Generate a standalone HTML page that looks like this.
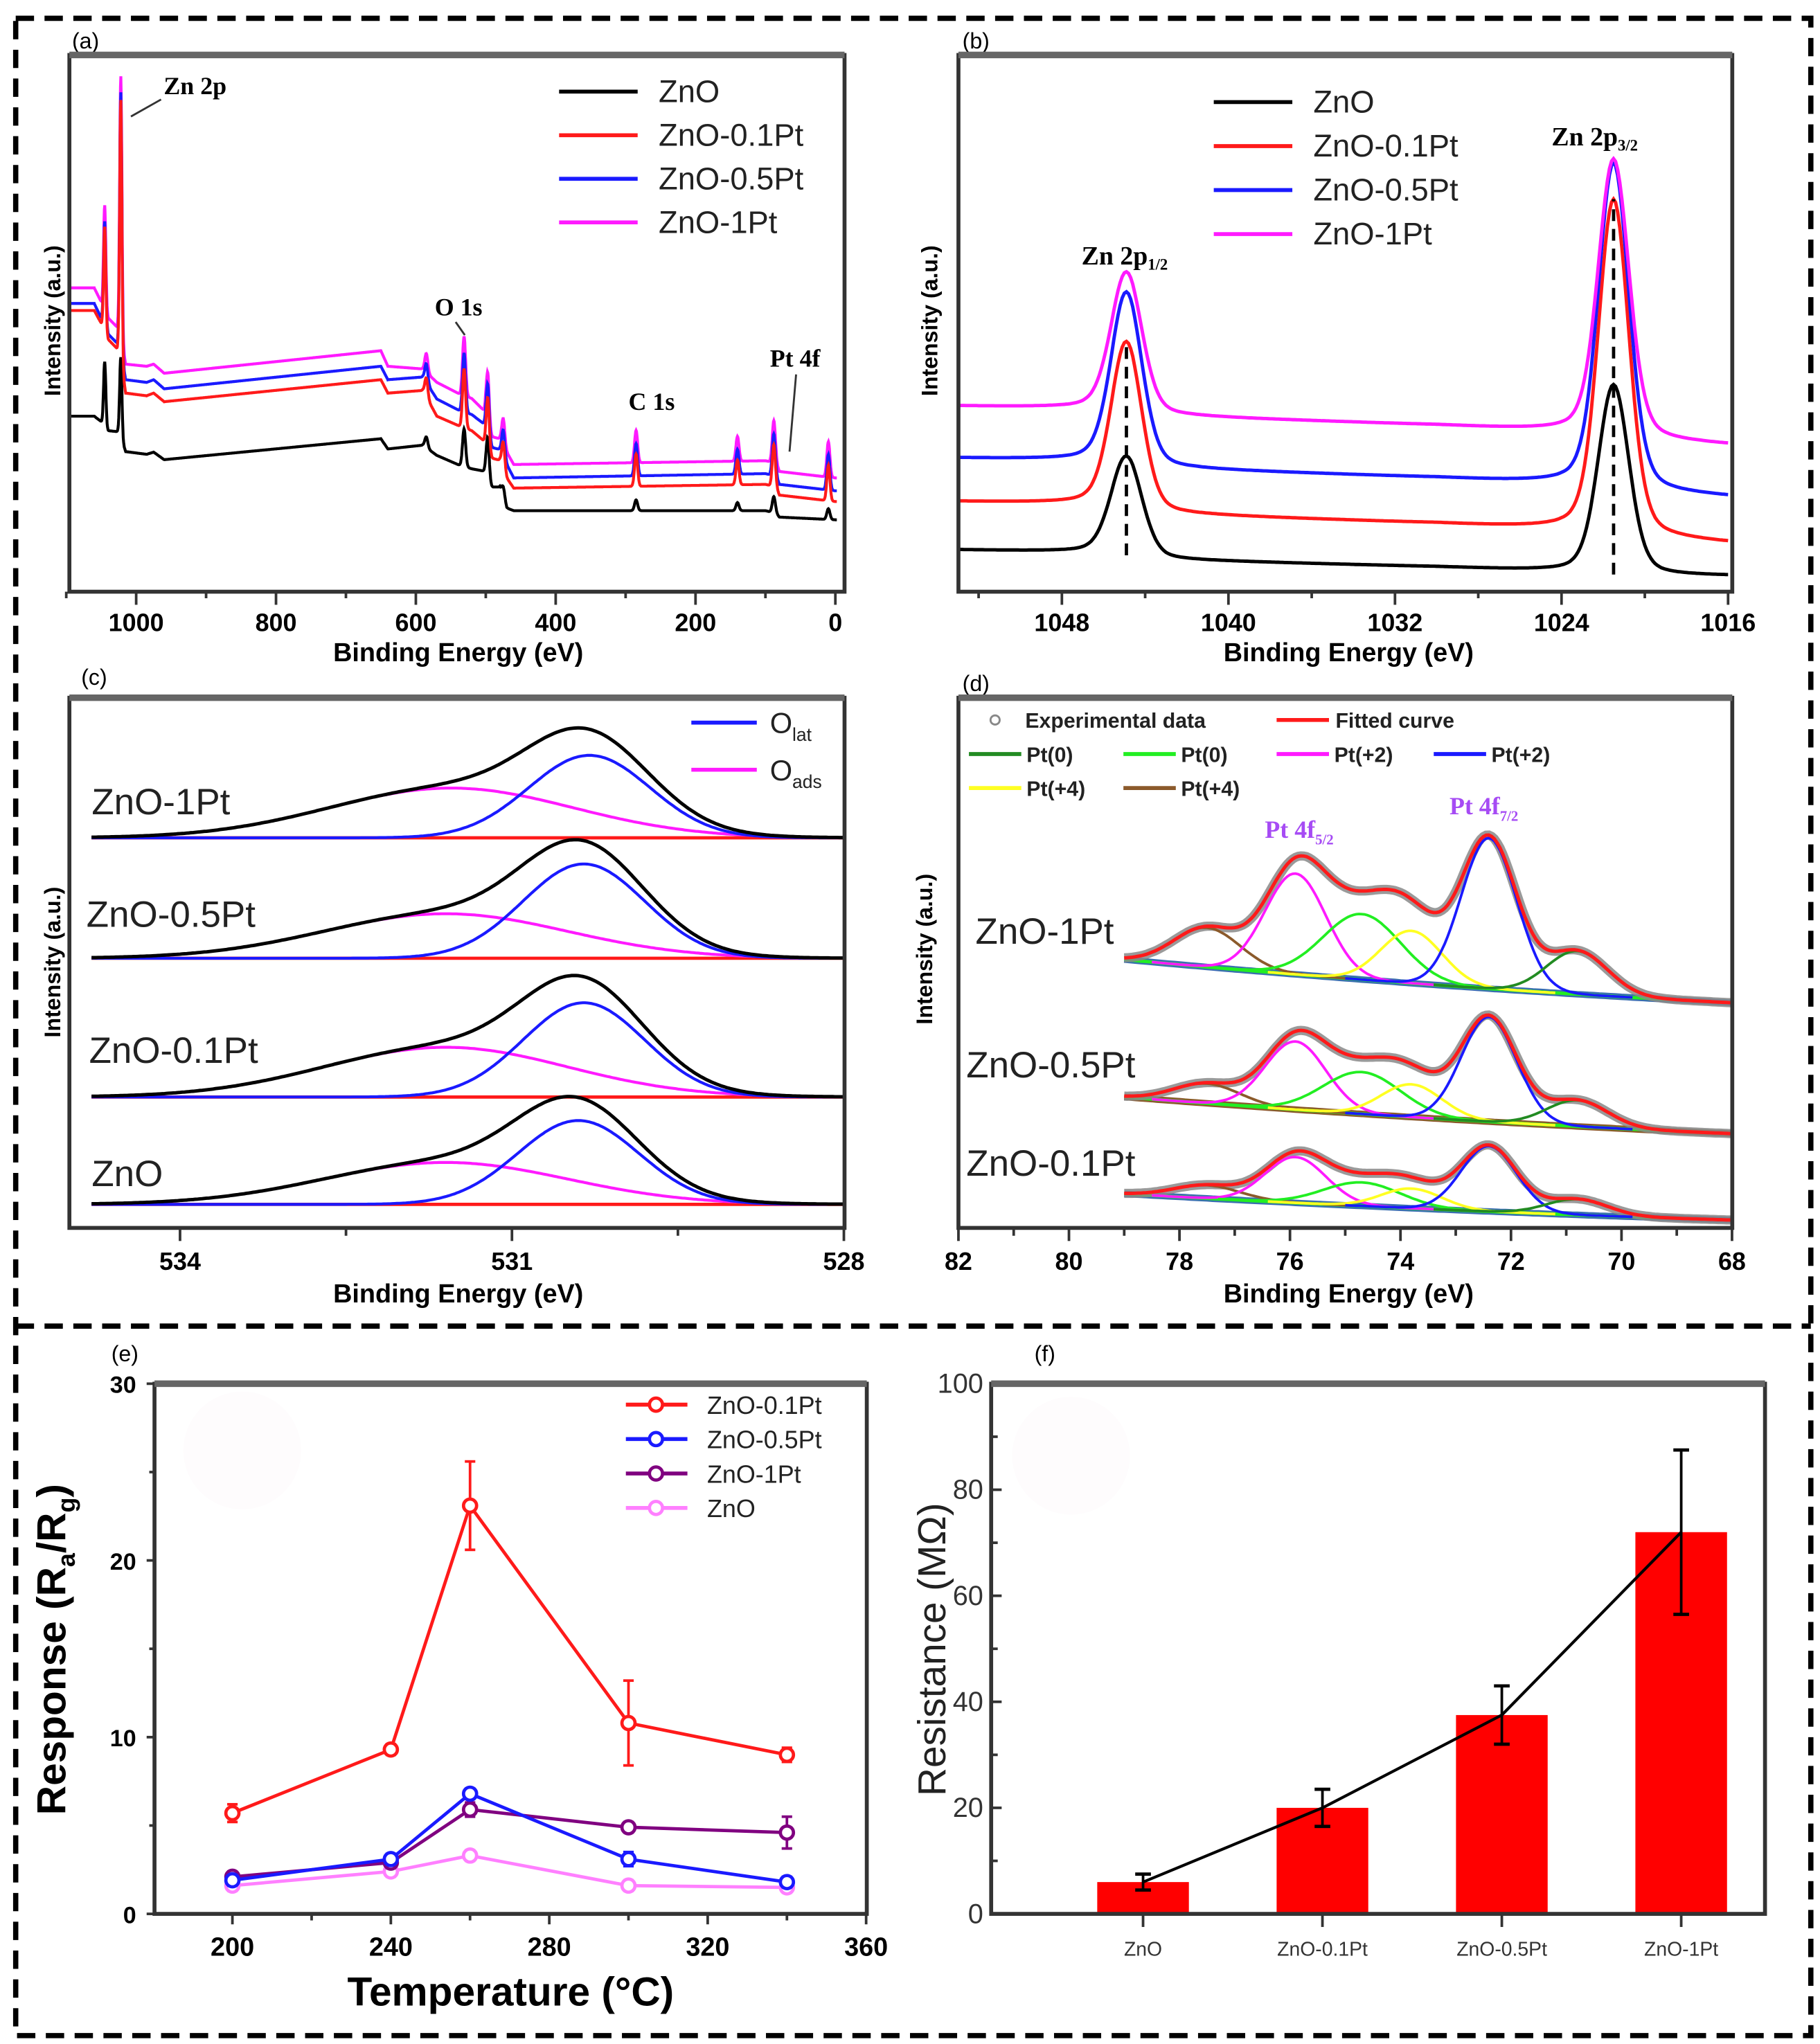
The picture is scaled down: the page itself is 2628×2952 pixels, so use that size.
<!DOCTYPE html>
<html><head><meta charset="utf-8"><style>
html,body{margin:0;padding:0;background:#fff;}
svg{display:block;}
text{font-family:"Liberation Sans",Arial,sans-serif;}
.serif{font-family:"Liberation Serif",serif;}
</style></head><body>
<svg id="fig" width="2628" height="2952" viewBox="0 0 1390 1561.4" preserveAspectRatio="none" xmlns="http://www.w3.org/2000/svg">
<rect x="0" y="0" width="1390" height="1562" fill="#fff"/>
<g fill="none" stroke="#000" stroke-width="4" stroke-dasharray="14,8">
<rect x="12" y="14" width="1371" height="1541"/>
<line x1="12" y1="1013" x2="1383" y2="1013"/>
</g>
</svg>
<script>
// ---------- DATA ----------
// Panel (a) survey
const aBaseE=[1100,1060,1050,1040,1025,1015,985,975,960,650,640,590,570,540,520,500,495,480,470,460,100,85,80,0];
const aBaseZnO=[32.7,32.7,31.7,30,29.8,26.1,25.6,26,24.6,28.5,26.6,27.3,25.4,23.7,22.9,22.4,19.5,19.5,15.6,15.1,15.1,14.6,13.9,13.4];
const aBase01=[52.4,52.4,50,47,45,37,36.5,37,35.4,39.5,37,37.5,32.7,31,30,27.8,25,24.5,21.2,19.3,20,19.5,18,16.8];
const aBase05=[53.7,53.7,51,48,46,39.5,39,39.5,37.8,42,39.5,40,35.9,33.9,33,31,27,26.5,23.7,21.2,22,21.5,20,18.8];
const aBase1=[56.6,56.6,54,51,49,42.4,42,42.4,40.7,44.9,42,41.5,39,37,36,33.4,29,28.5,26,23.7,24.4,24,22.4,21.2];
const aPeakE=[1045,1022,585,531,497,475,285,140,88,10];
const aPeakZnO=[12,15,2,7,8,2,2,1.5,3,2];
const aPeakPt=[19.5,49,3.5,11,10,5,6,4.6,7.8,6.6];
// Panel (b) Zn 2p
const bBaseE=[1053,1046,1043,1030,1024,1020,1016];
const bBaseZnO=[7.8,7.3,5.9,4.6,3.7,2.9,2.9];
const bBase01=[16.8,16.3,14.4,12.7,11.5,9.8,9.0];
const bBase05=[24.9,24.4,22.9,21.2,20,18.3,17.6];
const bBase1=[34.6,34.1,32.7,31,29.8,28,27.3];
const bPeakE=[1044.9,1021.5];
const bPeakZnO=[18.5,35.4];
const bPeak01=[31,62.7];
const bPeak05=[32,61];
const bPeak1=[26,52];
// Panel (c) O1s
const cSamples=['ZnO-1Pt','ZnO-0.5Pt','ZnO-0.1Pt','ZnO'];
const cBaseline=[298,206,100,18];
const cLatH=[63,72,72,64];
const cAdsH=[38,34,38,32];
const cLatE=[530.3,530.35,530.35,530.4];
const cAdsE=[531.55,531.6,531.6,531.6];
// Panel (d) Pt 4f
const dSamples=['ZnO-1Pt','ZnO-0.5Pt','ZnO-0.1Pt'];
const dCompE=[77.5,75.9,74.7,73.8,72.4,70.8];
const dCompSig=[0.6,0.55,0.7,0.55,0.5,0.55];
const dH1=[30,77,50,40,115,33];
const dH05=[15,52,32,25,80,20];
const dH01=[10,35,18,15,50,12];
const dBaseStart=[205,100,26];
const dBaseEnd=[172,72,6];
// Panel (e) response
const eTemps=[200,240,260,300,340];
const eZnO01=[5.7,9.3,23.1,10.8,9.0];
const eErr01=[0.5,0.3,2.5,2.4,0.4];
const eZnO05=[1.9,3.1,6.8,3.1,1.8];
const eErr05=[0.3,0.3,0.3,0.4,0.3];
const eZnO1=[2.1,2.9,5.9,4.9,4.6];
const eErr1=[0.3,0.3,0.4,0.3,0.9];
const eZnO=[1.6,2.4,3.3,1.6,1.5];
const eErrZnO=[0.3,0.3,0.3,0.3,0.3];
const eXTicks=[200,240,280,320,360];
const eYTicks=[0,10,20,30];
// Panel (f) resistance
const fCats=['ZnO','ZnO-0.1Pt','ZnO-0.5Pt','ZnO-1Pt'];
const fVals=[6,20,37.5,72];
const fErr=[1.5,3.5,5.5,15.5];
const fYTicks=[0,20,40,60,80,100];

// ---------- HELPERS ----------
const NS='http://www.w3.org/2000/svg';
const svg=document.getElementById('fig');
function mk(tag,attrs,name,parent){
  const e=document.createElementNS(NS,tag);
  for(const k in attrs) e.setAttribute(k,attrs[k]);
  
  
  (parent||svg).appendChild(e);
  return e;
}
function txt(x,y,s,opt,name,parent){
  const t=mk('text',Object.assign({x:x,y:y},opt||{}),name,parent);
  t.textContent=s; return t;
}
function interp(xs,ys,x){
  for(let i=0;i<xs.length-1;i++){
    const a=xs[i],b=xs[i+1];
    if((x<=a&&x>=b)||(x>=a&&x<=b)){const t=(x-a)/(b-a);return ys[i]+t*(ys[i+1]-ys[i]);}
  }
  return x>xs[0]===(xs[0]>xs[xs.length-1])?ys[0]:ys[ys.length-1];
}
function g(x,c,s){return Math.exp(-(x-c)*(x-c)/(2*s*s));}
function lor(x,c,w){return 1/(1+((x-c)/w)*((x-c)/w));}
function pathD(pts){return pts.map((p,i)=>(i?'L':'M')+p[0].toFixed(1)+' '+p[1].toFixed(1)).join('');}
function box(x0,y0,x1,y1,name){
  mk('rect',{x:x0,y:y0,width:x1-x0,height:y1-y0,fill:'none',stroke:'#333','stroke-width':3},name);
  mk('line',{x1:x0,y1:y0,x2:x1,y2:y0,stroke:'#666','stroke-width':5},name+'-top');
}
const BOLD={'font-weight':'bold'};

// ---------- PANEL A ----------
(function(){
  const G=mk('g',{},'panel-a');
  const X=E=>50.6+(1100-E)*0.534, Y=I=>452-I*4.1;
  const clip=mk('clipPath',{id:'ca'},'clip-a',G); mk('rect',{x:53,y:42,width:592,height:410},'clip-rect',clip);
  const sets=[[aBaseZnO,aPeakZnO,'#000','ZnO'],[aBase01,aPeakPt,'#ff1a1a','ZnO-0.1Pt'],[aBase05,aPeakPt,'#1a1aff','ZnO-0.5Pt'],[aBase1,aPeakPt,'#ff1aff','ZnO-1Pt']];
  const order=[0,3,2,1];
  order.forEach(k=>{
    const [base,pk,col,nm]=sets[k]; const pts=[];
    for(let E=1100;E>=-2;E-=0.5){
      let I=interp(aBaseE,base,E);
      aPeakE.forEach((pe,j)=>{I+=pk[j]*g(E,pe,pe>1000?1.6:2.2);});
      pts.push([X(E),Y(I)]);
    }
    mk('path',{d:pathD(pts),fill:'none',stroke:col,'stroke-width':2.2,'clip-path':'url(#ca)'},'survey-line-'+nm,G);
  });
  box(53,42,645,452,'axes-box-a');
  [1000,800,600,400,200,0].forEach(v=>{txt(X(v),482,String(v),Object.assign({'font-size':19,'text-anchor':'middle'},BOLD),'x-tick-label-a',G);});
  for(let v=1100;v>=0;v-=100) mk('line',{x1:X(v),y1:452,x2:X(v),y2:v%200===0?462:457,stroke:'#333','stroke-width':2},'x-tick-a',G);
  txt(350,505,'Binding Energy (eV)',Object.assign({'font-size':20,'text-anchor':'middle'},BOLD),'x-axis-title-a',G);
  txt(46,245,'Intensity (a.u.)',Object.assign({'font-size':17,'text-anchor':'middle',transform:'rotate(-90 46 245)'},BOLD),'y-axis-title-a',G);
  txt(55,37,'(a)',{'font-size':17},'panel-label-a',G);
  const lg=[['#000','ZnO'],['#ff1a1a','ZnO-0.1Pt'],['#1a1aff','ZnO-0.5Pt'],['#ff1aff','ZnO-1Pt']];
  lg.forEach((l,i)=>{const y=70+i*33.3;mk('line',{x1:427,y1:y,x2:487,y2:y,stroke:l[0],'stroke-width':3},'legend-line-a',G);txt(503,y+8,l[1],{'font-size':24,fill:'#222'},'legend-entry-a',G);});
  txt(125,72,'Zn 2p',Object.assign({'font-size':19,class:'serif'},BOLD),'annotation-zn2p',G);
  mk('line',{x1:123,y1:76,x2:100,y2:89,stroke:'#333','stroke-width':1.5},'arrow-zn2p',G);
  txt(332,241,'O 1s',Object.assign({'font-size':19,class:'serif'},BOLD),'annotation-o1s',G);
  mk('line',{x1:348,y1:246,x2:355,y2:256,stroke:'#333','stroke-width':1.5},'arrow-o1s',G);
  txt(480,313,'C 1s',Object.assign({'font-size':19,class:'serif'},BOLD),'annotation-c1s',G);
  txt(588,280,'Pt 4f',Object.assign({'font-size':19,class:'serif'},BOLD),'annotation-pt4f',G);
  mk('line',{x1:608,y1:286,x2:603,y2:345,stroke:'#333','stroke-width':1.5},'arrow-pt4f',G);
})();

// ---------- PANEL B ----------
(function(){
  const G=mk('g',{},'panel-b');
  const X=E=>811+(1048-E)*15.9, Y=I=>452-I*4.1;
  const sets=[[bBaseZnO,bPeakZnO,'#000','ZnO'],[bBase01,bPeak01,'#ff1a1a','ZnO-0.1Pt'],[bBase05,bPeak05,'#1a1aff','ZnO-0.5Pt'],[bBase1,bPeak1,'#ff1aff','ZnO-1Pt']];
  sets.forEach(([base,pk,col,nm])=>{
    const pts=[];
    for(let E=1053;E>=1016;E-=0.1){
      let I=interp(bBaseE,base,E);
      bPeakE.forEach((pe,j)=>{I+=pk[j]*(0.75*g(E,pe,0.72)+0.25*lor(E,pe,1.0));});
      pts.push([X(E),Y(I)]);
    }
    mk('path',{d:pathD(pts),fill:'none',stroke:col,'stroke-width':2.6},'zn2p-line-'+nm,G);
  });
  bPeakE.forEach((pe,j)=>{
    const y1=Y(interp(bBaseE,bBaseZnO,pe)), y2=Y(interp(bBaseE,bBase01,pe)+bPeak01[j]);
    mk('line',{x1:X(pe),y1:y1,x2:X(pe),y2:y2,stroke:'#000','stroke-width':2.5,'stroke-dasharray':'9,6'},'peak-guide-b',G);
  });
  box(732,42,1323,452,'axes-box-b');
  [1048,1040,1032,1024,1016].forEach(v=>{txt(X(v),482,String(v),Object.assign({'font-size':19,'text-anchor':'middle'},BOLD),'x-tick-label-b',G);});
  for(let v=1052;v>=1016;v-=4) mk('line',{x1:X(v),y1:452,x2:X(v),y2:(v%8===0)?462:457,stroke:'#333','stroke-width':2},'x-tick-b',G);
  txt(1030,505,'Binding Energy (eV)',Object.assign({'font-size':20,'text-anchor':'middle'},BOLD),'x-axis-title-b',G);
  txt(716,245,'Intensity (a.u.)',Object.assign({'font-size':17,'text-anchor':'middle',transform:'rotate(-90 716 245)'},BOLD),'y-axis-title-b',G);
  txt(735,37,'(b)',{'font-size':17},'panel-label-b',G);
  const lg=[['#000','ZnO'],['#ff1a1a','ZnO-0.1Pt'],['#1a1aff','ZnO-0.5Pt'],['#ff1aff','ZnO-1Pt']];
  lg.forEach((l,i)=>{const y=78+i*33.6;mk('line',{x1:927,y1:y,x2:987,y2:y,stroke:l[0],'stroke-width':3},'legend-line-b',G);txt(1003,y+8,l[1],{'font-size':24,fill:'#222'},'legend-entry-b',G);});
  const t1=txt(826,202,'Zn 2p',Object.assign({'font-size':20,class:'serif'},BOLD),'annotation-zn2p12',G);
  const s1=mk('tspan',{'font-size':12,dy:4},'subscript',t1); s1.textContent='1/2';
  const t2=txt(1185,111,'Zn 2p',Object.assign({'font-size':20,class:'serif'},BOLD),'annotation-zn2p32',G);
  const s2=mk('tspan',{'font-size':12,dy:4},'subscript',t2); s2.textContent='3/2';
})();

// ---------- PANEL C ----------
(function(){
  const G=mk('g',{},'panel-c');
  const X=E=>53+(535-E)*84.5, Y=I=>938-I;
  cSamples.forEach((nm,k)=>{
    const b=cBaseline[k];
    const blue=[],mag=[],env=[];
    for(let E=534.8;E>=528;E-=0.02){
      const lat=cLatH[k]*g(E,cLatE[k],0.55), ads=cAdsH[k]*g(E,cAdsE[k],1.1);
      blue.push([X(E),Y(b+lat)]); mag.push([X(E),Y(b+ads)]); env.push([X(E),Y(b+lat+ads)]);
    }
    mk('line',{x1:X(534.8),y1:Y(b),x2:645,y2:Y(b),stroke:'#ff1a1a','stroke-width':2.5},'baseline-c-'+nm,G);
    mk('path',{d:pathD(mag),fill:'none',stroke:'#ff1aff','stroke-width':2.2},'o-ads-'+nm,G);
    mk('path',{d:pathD(blue),fill:'none',stroke:'#1a1aff','stroke-width':2.2},'o-lat-'+nm,G);
    mk('path',{d:pathD(env),fill:'none',stroke:'#000','stroke-width':2.6},'o1s-envelope-'+nm,G);
  });
  box(53,533,645,938,'axes-box-c');
  [534,531,528].forEach(v=>{txt(X(v),970,String(v),Object.assign({'font-size':19,'text-anchor':'middle'},BOLD),'x-tick-label-c',G);mk('line',{x1:X(v),y1:938,x2:X(v),y2:948,stroke:'#333','stroke-width':2},'x-tick-c',G);});
  [532.5,529.5].forEach(v=>mk('line',{x1:X(v),y1:938,x2:X(v),y2:944,stroke:'#333','stroke-width':2},'x-minor-tick-c',G));
  txt(350,995,'Binding Energy (eV)',Object.assign({'font-size':20,'text-anchor':'middle'},BOLD),'x-axis-title-c',G);
  txt(46,735,'Intensity (a.u.)',Object.assign({'font-size':17,'text-anchor':'middle',transform:'rotate(-90 46 735)'},BOLD),'y-axis-title-c',G);
  txt(62,523,'(c)',{'font-size':17},'panel-label-c',G);
  mk('line',{x1:528,y1:552,x2:578,y2:552,stroke:'#1a1aff','stroke-width':3},'legend-line-olat',G);
  const l1=txt(588,560,'O',{'font-size':22,fill:'#222'},'legend-entry-olat',G); const a1=mk('tspan',{'font-size':14,dy:6},'subscript',l1); a1.textContent='lat';
  mk('line',{x1:528,y1:588,x2:578,y2:588,stroke:'#ff1aff','stroke-width':3},'legend-line-oads',G);
  const l2=txt(588,596,'O',{'font-size':22,fill:'#222'},'legend-entry-oads',G); const a2=mk('tspan',{'font-size':14,dy:6},'subscript',l2); a2.textContent='ads';
  const lp=[[70,622],[66,708],[68,812],[70,906]];
  cSamples.forEach((nm,k)=>txt(lp[k][0],lp[k][1],nm,{'font-size':28,fill:'#222'},'sample-label-c',G));
})();

// ---------- PANEL D ----------
(function(){
  const G=mk('g',{},'panel-d');
  const X=E=>732+(82-E)*42.2, Y=I=>938-I;
  const cols=['#8b5a2b','#ff1aff','#22ee22','#ffff22','#1a1aff','#228b22'];
  const hs=[dH1,dH05,dH01];
  dSamples.forEach((nm,k)=>{
    const base=E=>{const t=(79-E)/11;return dBaseStart[k]+(dBaseEnd[k]-dBaseStart[k])*(1-(1-t)*(1-t)*0.3-0.7*(1-t));};
    const env=[];
    for(let E=79;E>=68;E-=0.05){let I=base(E);dCompE.forEach((c,j)=>{I+=hs[k][j]*g(E,c,dCompSig[j]);});env.push([X(E),Y(I)]);}
    const bl=[];for(let E=79;E>=68;E-=0.1)bl.push([X(E),Y(base(E))]);
    mk('path',{d:pathD(bl),fill:'none',stroke:k===1?'#8b5a2b':'#3a6fb0','stroke-width':5},'background-d-'+nm,G);
    mk('path',{d:pathD(bl),fill:'none',stroke:'#22ee22','stroke-width':2.5},'background-green-d-'+nm,G);
    mk('path',{d:pathD(env),fill:'none',stroke:'#888','stroke-width':7,opacity:0.85},'experimental-data-'+nm,G);
    dCompE.forEach((c,j)=>{
      const p=[];for(let E=Math.min(79,c+2.6);E>=Math.max(68,c-2.6);E-=0.05)p.push([X(E),Y(base(E)+hs[k][j]*g(E,c,dCompSig[j]))]);
      mk('path',{d:pathD(p),fill:'none',stroke:cols[j],'stroke-width':2},'component-'+j+'-'+nm,G);
    });
    mk('path',{d:pathD(env),fill:'none',stroke:'#ff1a1a','stroke-width':2.6},'fitted-curve-'+nm,G);
  });
  box(732,533,1323,938,'axes-box-d');
  for(let v=82;v>=68;v-=2){txt(X(v),970,String(v),Object.assign({'font-size':19,'text-anchor':'middle'},BOLD),'x-tick-label-d',G);mk('line',{x1:X(v),y1:938,x2:X(v),y2:948,stroke:'#333','stroke-width':2},'x-tick-d',G);}
  for(let v=81;v>=69;v-=2) mk('line',{x1:X(v),y1:938,x2:X(v),y2:944,stroke:'#333','stroke-width':2},'x-minor-tick-d',G);
  txt(1030,995,'Binding Energy (eV)',Object.assign({'font-size':20,'text-anchor':'middle'},BOLD),'x-axis-title-d',G);
  txt(712,725,'Intensity (a.u.)',Object.assign({'font-size':17,'text-anchor':'middle',transform:'rotate(-90 712 725)'},BOLD),'y-axis-title-d',G);
  txt(735,528,'(d)',{'font-size':17},'panel-label-d',G);
  mk('circle',{cx:760,cy:550,r:3.5,fill:'none',stroke:'#888','stroke-width':1.5},'legend-marker-exp',G);
  txt(783,556,'Experimental data',Object.assign({'font-size':16,fill:'#222'},BOLD),'legend-entry-exp',G);
  mk('line',{x1:975,y1:550,x2:1015,y2:550,stroke:'#ff1a1a','stroke-width':3},'legend-line-fit',G);
  txt(1020,556,'Fitted curve',Object.assign({'font-size':16,fill:'#222'},BOLD),'legend-entry-fit',G);
  const lr=[[740,576,'#228b22','Pt(0)'],[858,576,'#22ee22','Pt(0)'],[975,576,'#ff1aff','Pt(+2)'],[1095,576,'#1a1aff','Pt(+2)'],[740,602,'#ffff22','Pt(+4)'],[858,602,'#8b5a2b','Pt(+4)']];
  lr.forEach(l=>{mk('line',{x1:l[0],y1:l[1],x2:l[0]+40,y2:l[1],stroke:l[2],'stroke-width':3},'legend-line-d',G);txt(l[0]+44,l[1]+6,l[3],Object.assign({'font-size':16,fill:'#222'},BOLD),'legend-entry-d',G);});
  const p1=txt(966,640,'Pt 4f',Object.assign({'font-size':19,fill:'#a64bf4',class:'serif'},BOLD),'annotation-pt4f52',G); const q1=mk('tspan',{'font-size':11,dy:5},'subscript',p1); q1.textContent='5/2';
  const p2=txt(1107,622,'Pt 4f',Object.assign({'font-size':19,fill:'#a64bf4',class:'serif'},BOLD),'annotation-pt4f72',G); const q2=mk('tspan',{'font-size':11,dy:5},'subscript',p2); q2.textContent='7/2';
  txt(745,721,'ZnO-1Pt',{'font-size':28,fill:'#222'},'sample-label-d',G);
  txt(738,823,'ZnO-0.5Pt',{'font-size':28,fill:'#222'},'sample-label-d',G);
  txt(738,898,'ZnO-0.1Pt',{'font-size':28,fill:'#222'},'sample-label-d',G);
})();

// ---------- PANEL E ----------
(function(){
  const G=mk('g',{},'panel-e');
  const X=T=>117+(T-180)*3.025, Y=v=>1462-v*13.5;
  mk('circle',{cx:185,cy:1108,r:45,fill:'#fefcfd'},'watermark-e',G);
  box(118,1057,662,1462,'axes-box-e');
  eYTicks.forEach(v=>{txt(104,Y(v)+7,String(v),Object.assign({'font-size':18,'text-anchor':'end'},BOLD),'y-tick-label-e',G);mk('line',{x1:112,y1:Y(v),x2:118,y2:Y(v),stroke:'#333','stroke-width':2},'y-tick-e',G);});
  for(let v=5;v<30;v+=10) mk('line',{x1:114,y1:Y(v),x2:118,y2:Y(v),stroke:'#333','stroke-width':2},'y-minor-tick-e',G);
  eXTicks.forEach(v=>{txt(X(v),1494,String(v),Object.assign({'font-size':20,'text-anchor':'middle'},BOLD),'x-tick-label-e',G);mk('line',{x1:X(v),y1:1462,x2:X(v),y2:1470,stroke:'#333','stroke-width':2},'x-tick-e',G);});
  for(let v=220;v<360;v+=40) mk('line',{x1:X(v),y1:1462,x2:X(v),y2:1467,stroke:'#333','stroke-width':2},'x-minor-tick-e',G);
  const series=[[eZnO,eErrZnO,'#ff80ff','ZnO'],[eZnO1,eErr1,'#800080','ZnO-1Pt'],[eZnO05,eErr05,'#1a1aff','ZnO-0.5Pt'],[eZnO01,eErr01,'#ff1a1a','ZnO-0.1Pt']];
  series.forEach(([vals,err,col,nm])=>{
    mk('path',{d:pathD(eTemps.map((t,i)=>[X(t),Y(vals[i])])),fill:'none',stroke:col,'stroke-width':2.5},'response-line-'+nm,G);
    eTemps.forEach((t,i)=>{
      mk('line',{x1:X(t),y1:Y(vals[i]-err[i]),x2:X(t),y2:Y(vals[i]+err[i]),stroke:col,'stroke-width':2},'error-bar-'+nm,G);
      mk('line',{x1:X(t)-4,y1:Y(vals[i]+err[i]),x2:X(t)+4,y2:Y(vals[i]+err[i]),stroke:col,'stroke-width':2},'error-cap-'+nm,G);
      mk('line',{x1:X(t)-4,y1:Y(vals[i]-err[i]),x2:X(t)+4,y2:Y(vals[i]-err[i]),stroke:col,'stroke-width':2},'error-cap-'+nm,G);
      mk('circle',{cx:X(t),cy:Y(vals[i]),r:5,fill:'#fff',stroke:col,'stroke-width':2.5},'point-'+nm,G);
    });
  });
  const lg=[['#ff1a1a','ZnO-0.1Pt'],['#1a1aff','ZnO-0.5Pt'],['#800080','ZnO-1Pt'],['#ff80ff','ZnO']];
  lg.forEach((l,i)=>{const y=1073+i*26.3;mk('line',{x1:478,y1:y,x2:525,y2:y,stroke:l[0],'stroke-width':3},'legend-line-e',G);mk('circle',{cx:501,cy:y,r:5,fill:'#fff',stroke:l[0],'stroke-width':2.5},'legend-marker-e',G);txt(540,y+7,l[1],{'font-size':19,fill:'#222'},'legend-entry-e',G);});
  txt(390,1532,'Temperature (°C)',Object.assign({'font-size':31,'text-anchor':'middle'},BOLD),'x-axis-title-e',G);
  const yt=txt(50,1260,'Response (R',Object.assign({'font-size':31,'text-anchor':'middle',transform:'rotate(-90 50 1260)'},BOLD),'y-axis-title-e',G);
  const s1=mk('tspan',{'font-size':19,dy:7},'subscript',yt); s1.textContent='a';
  const s2=mk('tspan',{dy:-7},'title-part',yt); s2.textContent='/R';
  const s3=mk('tspan',{'font-size':19,dy:7},'subscript',yt); s3.textContent='g';
  const s4=mk('tspan',{dy:-7},'title-part',yt); s4.textContent=')';
  txt(85,1040,'(e)',{'font-size':17},'panel-label-e',G);
})();

// ---------- PANEL F ----------
(function(){
  const G=mk('g',{},'panel-f');
  const Y=v=>1462-v*4.05, X=i=>873+i*137;
  mk('circle',{cx:818,cy:1112,r:45,fill:'#fefcfd'},'watermark-f',G);
  fVals.forEach((v,i)=>{mk('rect',{x:X(i)-35,y:Y(v),width:70,height:1462-Y(v),fill:'#ff0000'},'bar-'+fCats[i],G);});
  mk('path',{d:pathD(fVals.map((v,i)=>[X(i),Y(v)])),fill:'none',stroke:'#000','stroke-width':2.2},'trend-line-f',G);
  fVals.forEach((v,i)=>{
    mk('line',{x1:X(i),y1:Y(v-fErr[i]),x2:X(i),y2:Y(v+fErr[i]),stroke:'#000','stroke-width':2},'error-bar-f',G);
    mk('line',{x1:X(i)-6,y1:Y(v-fErr[i]),x2:X(i)+6,y2:Y(v-fErr[i]),stroke:'#000','stroke-width':2.5},'error-cap-f',G);
    mk('line',{x1:X(i)-6,y1:Y(v+fErr[i]),x2:X(i)+6,y2:Y(v+fErr[i]),stroke:'#000','stroke-width':2.5},'error-cap-f',G);
    txt(X(i),1494,fCats[i],{'font-size':15,'text-anchor':'middle',fill:'#333'},'x-category-label-f',G);
    mk('line',{x1:X(i),y1:1462,x2:X(i),y2:1472,stroke:'#333','stroke-width':2},'x-tick-f',G);
  });
  box(757,1057,1348,1462,'axes-box-f');
  fYTicks.forEach(v=>{txt(751,Y(v)+7,String(v),{'font-size':21,'text-anchor':'end',fill:'#333'},'y-tick-label-f',G);mk('line',{x1:757,y1:Y(v),x2:765,y2:Y(v),stroke:'#333','stroke-width':2},'y-tick-f',G);});
  for(let v=10;v<100;v+=20) mk('line',{x1:757,y1:Y(v),x2:762,y2:Y(v),stroke:'#333','stroke-width':2},'y-minor-tick-f',G);
  txt(722,1260,'Resistance (MΩ)',{'font-size':30,'text-anchor':'middle',transform:'rotate(-90 722 1260)',fill:'#222'},'y-axis-title-f',G);
  txt(790,1040,'(f)',{'font-size':17},'panel-label-f',G);
})();
</script>
</body></html>
